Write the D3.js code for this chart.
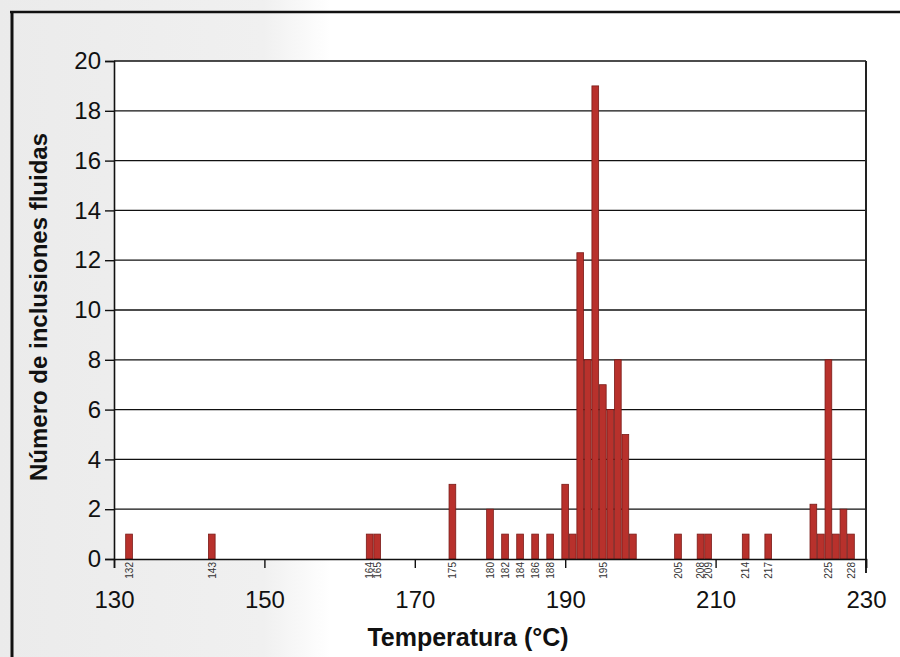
<!DOCTYPE html>
<html>
<head>
<meta charset="utf-8">
<script src="https://cdn.jsdelivr.net/npm/d3@7"></script>
<style>
  body { margin: 0; background: #fff; }
  svg { display: block; font-family: "Liberation Sans", Arial, sans-serif; }
</style>
</head>
<body>
<div id="chart"></div>
<script>
// Temperatures (°C) and counts of fluid inclusions
let temps  = [132, 143, 164, 165, 175, 180, 182, 184, 186, 188, 190, 191, 192, 193, 194, 195, 196, 197, 198, 199, 205, 208, 209, 214, 217, 223, 224, 225, 226, 227, 228];
let counts = [1, 1, 1, 1, 3, 2, 1, 1, 1, 1, 3, 1, 12.3, 8, 19, 7, 6, 8, 5, 1, 1, 1, 1, 1, 1, 2.2, 1, 8, 1, 2, 1];
// small rotated labels printed under some bars
let barLabels = [132, 143, 164, 165, 175, 180, 182, 184, 186, 188, 195, 205, 208, 209, 214, 217, 225, 228];
let xTicks = [130, 150, 170, 190, 210, 230];
let yTicks = [0, 2, 4, 6, 8, 10, 12, 14, 16, 18, 20];

let data = temps.map(function (t, i) { return { t: t, n: counts[i] }; });

let W = 900, H = 657;
let margin = { top: 61, right: 34, bottom: 98, left: 114 },
    width = W - margin.left - margin.right,
    height = H - margin.top - margin.bottom;

let svg = d3.select('#chart').append('svg')
    .attr('width', W)
    .attr('height', H);

// faint scanned-paper tint on the left
let grad = svg.append('defs').append('linearGradient')
    .attr('id', 'paper').attr('x1', '0').attr('x2', '1');
grad.append('stop').attr('offset', '0').attr('stop-color', '#ebebeb');
grad.append('stop').attr('offset', '0.8').attr('stop-color', '#f0f0f0');
grad.append('stop').attr('offset', '1').attr('stop-color', '#ffffff');
svg.append('rect').attr('x', 0).attr('y', 0).attr('width', 330).attr('height', H)
    .attr('fill', 'url(#paper)');

// outer frame
svg.append('line').attr('x1', 12).attr('x2', 12).attr('y1', 11).attr('y2', H)
    .attr('stroke', '#111').attr('stroke-width', 3);
svg.append('line').attr('x1', 10).attr('x2', W).attr('y1', 12).attr('y2', 12)
    .attr('stroke', '#111').attr('stroke-width', 2.5);

let g = svg.append('g')
    .attr('transform', 'translate(' + margin.left + ',' + margin.top + ')');

let x = d3.scaleLinear().domain([130, 230]).range([0, width]);
let y = d3.scaleLinear().domain([0, 20]).range([height, 0]);

// plot background
g.append('rect').attr('width', width).attr('height', height).attr('fill', '#fff');

// horizontal gridlines
g.selectAll('.grid')
    .data(yTicks.filter(function (d) { return d > 0; }))
    .enter().append('line')
    .attr('x1', 0).attr('x2', width)
    .attr('y1', function (d) { return y(d); })
    .attr('y2', function (d) { return y(d); })
    .attr('stroke', '#111').attr('stroke-width', 1.3);

// bars
let bw = x(131) - x(130);
g.selectAll('.bar')
    .data(data)
    .enter().append('rect')
    .attr('x', function (d) { return x(d.t) - bw / 2 + 0.4; })
    .attr('width', bw - 0.8)
    .attr('y', function (d) { return y(d.n); })
    .attr('height', function (d) { return y(0) - y(d.n); })
    .attr('fill', '#b8312c')
    .attr('stroke', '#7a1b18')
    .attr('stroke-width', 0.8);

// right border
g.append('line').attr('x1', width).attr('x2', width).attr('y1', 0).attr('y2', height + 14)
    .attr('stroke', '#222').attr('stroke-width', 2);

// X axis
let xAxis = g.append('g')
    .attr('transform', 'translate(0,' + height + ')')
    .call(d3.axisBottom(x).tickValues(xTicks).tickSize(9).tickPadding(23));
xAxis.select('.domain').attr('stroke', '#111').attr('stroke-width', 1.6);
xAxis.selectAll('.tick line').attr('stroke', '#111').attr('stroke-width', 1.4);
xAxis.selectAll('.tick text').attr('font-size', 24).attr('fill', '#111')
    .attr('font-family', '"Liberation Sans", Arial, sans-serif');

// Y axis
let yAxis = g.append('g')
    .call(d3.axisLeft(y).tickValues(yTicks).tickSize(9).tickPadding(4));
yAxis.select('.domain').attr('stroke', '#111').attr('stroke-width', 1.6);
yAxis.selectAll('.tick line').attr('stroke', '#111').attr('stroke-width', 1.4);
yAxis.selectAll('.tick text').attr('font-size', 24).attr('fill', '#111')
    .attr('font-family', '"Liberation Sans", Arial, sans-serif');

// small rotated value labels under bars
g.selectAll('.blabel')
    .data(barLabels)
    .enter().append('text')
    .attr('transform', function (d) {
        return 'translate(' + (x(d) + 3.8) + ',' + (height + 3) + ') rotate(-90)';
    })
    .attr('text-anchor', 'end')
    .attr('font-size', 10)
    .attr('fill', '#333')
    .text(function (d) { return d; });

// axis titles
svg.append('text')
    .attr('x', 468)
    .attr('y', 646)
    .attr('text-anchor', 'middle')
    .attr('font-size', 25)
    .attr('font-weight', 'bold')
    .attr('fill', '#111')
    .text('Temperatura (°C)');

svg.append('text')
    .attr('transform', 'translate(47,307) rotate(-90)')
    .attr('text-anchor', 'middle')
    .attr('font-size', 24)
    .attr('font-weight', 'bold')
    .attr('fill', '#111')
    .text('Número de inclusiones fluidas');
</script>
</body>
</html>
